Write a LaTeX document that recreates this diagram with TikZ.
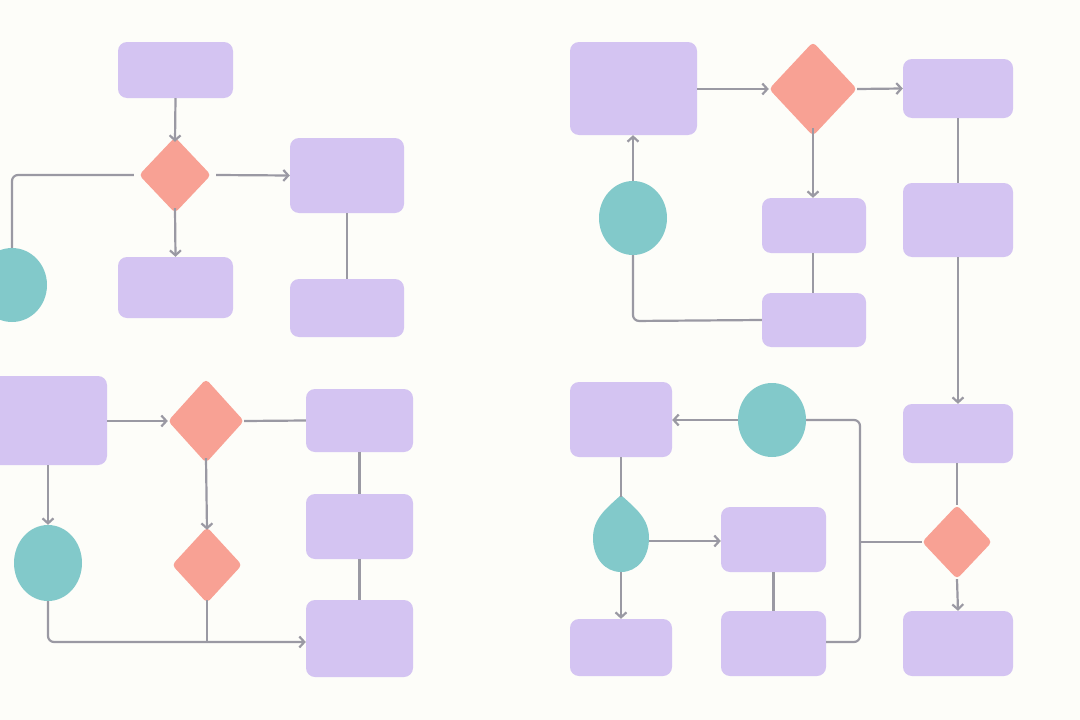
\documentclass[tikz,border=0pt]{standalone}
\usetikzlibrary{shapes.geometric,arrows.meta}
\definecolor{bg}{HTML}{FDFDF9}
\definecolor{pur}{HTML}{D4C4F2}
\definecolor{red}{HTML}{F8A194}
\definecolor{teal}{HTML}{82C9CA}
\definecolor{ln}{HTML}{9A99A3}
\begin{document}
\begin{tikzpicture}[x=1pt,y=-1pt,
 box/.style={fill=pur,draw=none,rounded corners=9pt,inner sep=0pt},
 dia/.style={diamond,fill=red,draw=none,rounded corners=4pt,inner sep=0pt},
 ell/.style={ellipse,fill=teal,draw=none,inner sep=0pt},
 con/.style={draw=ln,line width=2.2pt,rounded corners=6pt},
 arr/.style={con,-{Straight Barb[length=5pt,width=11pt]}}]
\useasboundingbox[fill=bg] (0,0) rectangle (1080,720);
% top-left
\node[box,minimum width=115,minimum height=56] (A) at (175.5,70) {};
\node[dia,minimum width=72,minimum height=76] (D1) at (175,175) {};
\node[box,minimum width=114,minimum height=75] (B) at (347,175.5) {};
\node[box,minimum width=115,minimum height=61] (C) at (175.5,287.5) {};
\node[box,minimum width=114,minimum height=58] (E) at (347,308) {};
\node[ell,minimum width=70,minimum height=74] (T1) at (12,285) {};
\draw[arr] (A.south) -- ([yshift=-5]D1.north);
\draw[arr] ([xshift=5]D1.east) -- (B.west);
\draw[arr] ([yshift=5]D1.south) -- (C.north);
\draw[con] (B.south) -- (E.north);
\draw[con] ([xshift=-5]D1.west) -- (12,175) -- (T1.north);
% bottom-left
\node[box,minimum width=120,minimum height=89] (F) at (47,420.5) {};
\node[dia,minimum width=76,minimum height=84] (D2) at (206,421) {};
\node[box,minimum width=107,minimum height=63] (G) at (359.5,420.5) {};
\node[box,minimum width=107,minimum height=65] (H) at (359.5,526.5) {};
\node[box,minimum width=107,minimum height=77] (I) at (359.5,638.5) {};
\node[ell,minimum width=68,minimum height=76] (T2) at (48,563) {};
\node[dia,minimum width=70,minimum height=76] (D3) at (207,565) {};
\draw[arr] (F.east |- D2) -- (D2.west);
\draw[con] (D2.east) -- (G.west);
\draw[con] (G.south) -- (H.north);
\draw[con] (H.south) -- (I.north);
\draw[arr] (T2 |- F.south) -- (T2.north);
\draw[arr] ([yshift=5]D2.south) -- ([yshift=-3]D3.north);
\draw[arr] (T2.south) -- (48,642) -- (I.west |- 0,642);
\draw[con] ([yshift=3]D3.south) -- (207,642);
% top-right
\node[box,minimum width=127,minimum height=93] (J) at (633.5,88.5) {};
\node[dia,minimum width=88,minimum height=94] (D4) at (813,89) {};
\node[box,minimum width=110,minimum height=59] (K) at (958,88.5) {};
\node[box,minimum width=110,minimum height=74] (L) at (958,220) {};
\node[box,minimum width=104,minimum height=55] (M) at (814,225.5) {};
\node[box,minimum width=104,minimum height=54] (N) at (814,320) {};
\node[ell,minimum width=68,minimum height=74] (T3) at (633,218) {};
\draw[arr] (J.east |- D4) -- (D4.west);
\draw[arr] (D4.east) -- (K.west);
\draw[con] (K.south) -- (L.north);
\draw[arr] ([yshift=8]D4.south) -- ([xshift=-1]M.north);
\draw[con] ([xshift=-1]M.south) -- ([xshift=-1]N.north);
\draw[con] (N.west) -- (633,321) -- (T3.south);
\draw[arr] (T3.north) -- (J.south -| T3);
% bottom-right
\node[box,minimum width=110,minimum height=59] (O) at (958,433.5) {};
\node[dia,minimum width=70,minimum height=74] (D5) at (957,542) {};
\node[box,minimum width=110,minimum height=65] (P) at (958,643.5) {};
\draw[arr] (L.south) -- (O.north);
\node[box,minimum width=102,minimum height=75] (Q) at (621,419.5) {};
\node[ell,minimum width=68,minimum height=74] (R) at (772,420) {};
\node[box,minimum width=105,minimum height=65] (T) at (773.5,539.5) {};
\node[box,minimum width=105,minimum height=65] (U) at (773.5,643.5) {};
\node[box,minimum width=102,minimum height=57] (V) at (621,647.5) {};
\coordinate (S) at (621,537);
\fill[teal] (621,495) .. controls (635,508) and (649,518) .. (649,538) .. controls (649,558) and (637,572) .. (621,572) .. controls (605,572) and (593,558) .. (593,538) .. controls (593,518) and (607,508) .. (621,495);
\coordinate (Stop) at (621,497);
\coordinate (Sbot) at (621,572);
\coordinate (Sr) at (649,541);
\draw[con] ([xshift=-1]O.south) -- (D5.north);
\draw[arr] (D5.south) -- (P.north);
\draw[con] (R.east) -- (860,420) -- (860,642) -- (U.east |- 0,642);
\draw[con] (D5.west) -- (860,542);
\draw[arr] (R.west) -- (Q.east |- R);
\draw[con] (Q.south) -- (Stop);
\draw[arr] (Sr) -- (T.west |- Sr);
\draw[con] (T.south) -- (U.north);
\draw[arr] (Sbot) -- (V.north);
\end{tikzpicture}
\end{document}
